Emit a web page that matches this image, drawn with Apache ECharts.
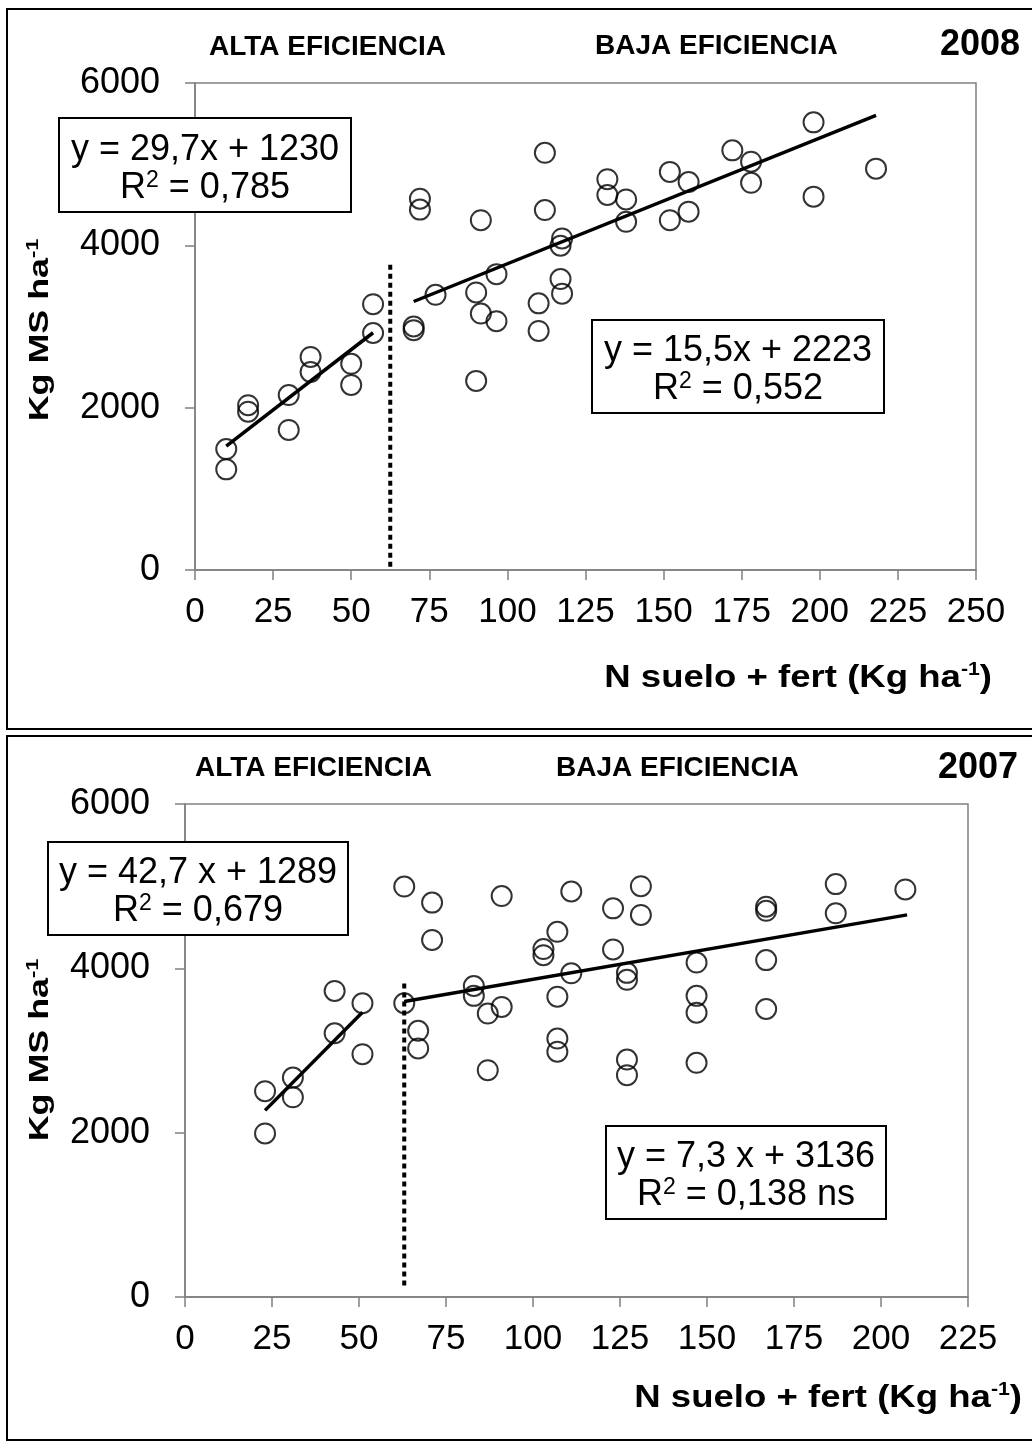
<!DOCTYPE html>
<html>
<head>
<meta charset="utf-8">
<script src="https://cdn.jsdelivr.net/npm/echarts@6/dist/echarts.min.js"></script>
<style>
html, body { margin: 0; padding: 0; background: #fff; }
#chart { width: 1032px; height: 1445px; }
</style>
</head>
<body>
<div id="chart"></div>
<script>
// 2008 - N disponible (kg/ha) y MS (kg/ha)
var n2008Alta = [10, 10, 17, 17, 30, 30, 37, 37, 50, 50, 57, 57];
var ms2008Alta = [1490, 1240, 2030, 1950, 2155, 1725, 2625, 2440, 2540, 2280, 3275, 2920];
var n2008Baja = [70, 70, 72, 72, 77, 91.5, 90, 91.5, 96.5, 96.5, 90, 112, 112, 110, 110, 117.5, 117, 117, 117.5,
                 132, 132, 138, 138, 152, 158, 158, 152, 172, 178, 178, 198, 198, 218];
var ms2008Baja = [3000, 2955, 4575, 4440, 3390, 4310, 3420, 3160, 3645, 3065, 2330, 5140, 4435, 3285, 2945, 4085, 3995, 3585, 3405,
                  4815, 4620, 4565, 4290, 4905, 4780, 4415, 4310, 5170, 5030, 4770, 5515, 4600, 4945];

// 2007
var n2007Alta = [23, 23, 31, 31, 43, 43, 51, 51];
var ms2007Alta = [2505, 1990, 2670, 2430, 3725, 3210, 3575, 2955];
var n2007Baja = [63, 63, 71, 71, 67, 67, 83, 83, 87, 91, 87, 91, 103, 103, 107, 107, 107, 107, 111, 111,
                 123, 123, 131, 131, 127, 127, 127, 127, 147, 147, 147, 147, 167, 167, 167, 167, 187, 187, 207];
var ms2007Baja = [3575, 4995, 4800, 4345, 3240, 3025, 3785, 3665, 3450, 3530, 2760, 4880, 4235, 4160, 4445, 3655, 3145, 2985, 4935, 3940,
                  4730, 4230, 5000, 4650, 3945, 3860, 2890, 2700, 4070, 3665, 3460, 2850, 4750, 4700, 4100, 3505, 5025, 4670, 4960];

// rectas de regresion: [pendiente, ordenada, xmin, xmax]
var fit2008Alta = [29.7, 1230, 10, 57];
var fit2008Baja = [15.5, 2223, 70, 218];
var fit2007Alta = [42.7, 1289, 23, 51];
var fit2007Baja = [7.3, 3136, 63, 207.5];

// limite alta/baja eficiencia: [x, y desde, y hasta]
var limite2008 = [62.5, 40, 3800];
var limite2007 = [63, 140, 3860];

// ecuaciones: [recta, R2]
var eq2008 = [['y = 29,7x + 1230', '0,785'], ['y = 15,5x + 2223', '0,552']];
var eq2007 = [['y = 42,7 x + 1289', '0,679'], ['y = 7,3 x + 3136', '0,138 ns']];

var FONT = 'Liberation Sans, Arial, Helvetica, sans-serif';

var zip = function (xs, ys) {
    var res = [];
    for (var i = 0; i < xs.length; i++) res.push([xs[i], ys[i]]);
    return res;
};
var fitLine = function (f) {
    return [[f[2], f[0] * f[2] + f[1]], [f[3], f[0] * f[3] + f[1]]];
};

var axisGray = '#808080';

var makeX = function (grid, max) {
    return {
        gridIndex: grid, type: 'value', min: 0, max: max, interval: 25,
        splitLine: { show: false },
        axisLine: { onZero: false, lineStyle: { color: axisGray, width: 1.5 } },
        axisTick: { length: 10, lineStyle: { color: axisGray, width: 1.5 } },
        axisLabel: { interval: 0, fontSize: 35, color: '#000', fontFamily: FONT, margin: 25,
                     showMinLabel: true, showMaxLabel: true }
    };
};
var makeY = function (grid) {
    return {
        gridIndex: grid, type: 'value', min: 0, max: 6000, interval: 2000,
        splitLine: { show: false },
        axisLine: { onZero: false, lineStyle: { color: axisGray, width: 1.5 } },
        axisTick: { length: 10, lineStyle: { color: axisGray, width: 1.5 } },
        axisLabel: { fontSize: 36, color: '#000', fontFamily: FONT, margin: 35,
                     formatter: function (v) { return String(v); } }
    };
};

var pointStyle = { color: 'rgba(255,255,255,0)', borderColor: '#000', borderWidth: 2 };

var scatter = function (idx, data) {
    return { type: 'scatter', xAxisIndex: idx, yAxisIndex: idx, data: data, symbol: 'circle', symbolSize: 20,
             itemStyle: pointStyle, silent: true, z: 3 };
};
var line = function (idx, data, style) {
    return { type: 'line', xAxisIndex: idx, yAxisIndex: idx, data: data, symbol: 'none', silent: true,
             lineStyle: style, z: 2 };
};
var solid = { color: '#000', width: 3.5 };
var dotted = { color: '#000', width: 4, type: [5, 4] };

var textEl = function (x, y, txt, size, align, bold) {
    return { type: 'text', x: x, y: y, silent: true,
             style: { text: txt, fill: '#000', font: (bold ? 'bold ' : '') + size + 'px ' + FONT,
                      align: align, verticalAlign: 'middle' } };
};
var eqBox = function (x0, y0, x1, y1, eq) {
    return [
        { type: 'rect', shape: { x: x0, y: y0, width: x1 - x0, height: y1 - y0 }, silent: true,
          style: { fill: '#fff', stroke: '#000', lineWidth: 2 }, z: 10 },
        { type: 'text', x: (x0 + x1) / 2, y: (y0 + y1) / 2 + 4, silent: true, z: 11,
          style: { text: '{a|' + eq[0] + '}\n{a|R}{s|2}{a| = ' + eq[1] + '}',
                   align: 'center', verticalAlign: 'middle',
                   rich: { a: { font: '36px ' + FONT, fill: '#000', lineHeight: 38 },
                           s: { font: '23px ' + FONT, fill: '#000', verticalAlign: 'top', lineHeight: 28 } } } }
    ];
};
var supRich = function (size, supSize) {
    return { a: { font: 'bold ' + size + 'px ' + FONT, fill: '#000', lineHeight: size + 2 },
             b: { font: 'bold ' + supSize + 'px ' + FONT, fill: '#000', verticalAlign: 'top', lineHeight: supSize } };
};
var xTitle = function (x, y) {
    return { type: 'text', x: x, y: y, silent: true, scaleX: 1.18,
             style: { text: '{a|N suelo + fert (Kg ha}{b|-1}{a|)}', align: 'right', verticalAlign: 'middle',
                      rich: supRich(31, 18) } };
};
var yTitle = function (x, y) {
    return { type: 'text', x: x, y: y, silent: true, rotation: Math.PI / 2, scaleX: 1.28,
             style: { text: '{a|Kg MS ha}{b|-1}', align: 'center', verticalAlign: 'middle',
                      rich: supRich(28, 17) } };
};

var option = {
    backgroundColor: '#fff',
    animation: false,
    grid: [
        { left: 195, top: 83, width: 781, height: 487, show: true, borderColor: axisGray, borderWidth: 1.5 },
        { left: 185, top: 804, width: 783, height: 493, show: true, borderColor: axisGray, borderWidth: 1.5 }
    ],
    xAxis: [makeX(0, 250), makeX(1, 225)],
    yAxis: [makeY(0), makeY(1)],
    series: [
        line(0, fitLine(fit2008Alta), solid),
        line(0, fitLine(fit2008Baja), solid),
        line(0, [[limite2008[0], limite2008[1]], [limite2008[0], limite2008[2]]], dotted),
        scatter(0, zip(n2008Alta, ms2008Alta)),
        scatter(0, zip(n2008Baja, ms2008Baja)),
        line(1, fitLine(fit2007Alta), solid),
        line(1, fitLine(fit2007Baja), solid),
        line(1, [[limite2007[0], limite2007[1]], [limite2007[0], limite2007[2]]], dotted),
        scatter(1, zip(n2007Alta, ms2007Alta)),
        scatter(1, zip(n2007Baja, ms2007Baja))
    ],
    graphic: [
        { type: 'rect', shape: { x: 7, y: 9, width: 1040, height: 720 }, silent: true,
          style: { fill: 'none', stroke: '#000', lineWidth: 2 } },
        { type: 'rect', shape: { x: 7, y: 736, width: 1040, height: 704 }, silent: true,
          style: { fill: 'none', stroke: '#000', lineWidth: 2 } },
        textEl(209, 47, 'ALTA EFICIENCIA', 28, 'left', true),
        textEl(595, 46, 'BAJA EFICIENCIA', 28, 'left', true),
        textEl(1020, 45, '2008', 36, 'right', true),
        textEl(195, 768, 'ALTA EFICIENCIA', 28, 'left', true),
        textEl(556, 768, 'BAJA EFICIENCIA', 28, 'left', true),
        textEl(1018, 768, '2007', 36, 'right', true),
        xTitle(992, 678),
        xTitle(1022, 1398),
        yTitle(40, 330),
        yTitle(40, 1050)
    ].concat(eqBox(59, 118, 351, 212, eq2008[0]))
     .concat(eqBox(592, 320, 884, 413, eq2008[1]))
     .concat(eqBox(48, 842, 348, 935, eq2007[0]))
     .concat(eqBox(606, 1126, 886, 1219, eq2007[1]))
};

var myChart = echarts.init(document.getElementById('chart'));
myChart.setOption(option);
</script>
</body>
</html>
